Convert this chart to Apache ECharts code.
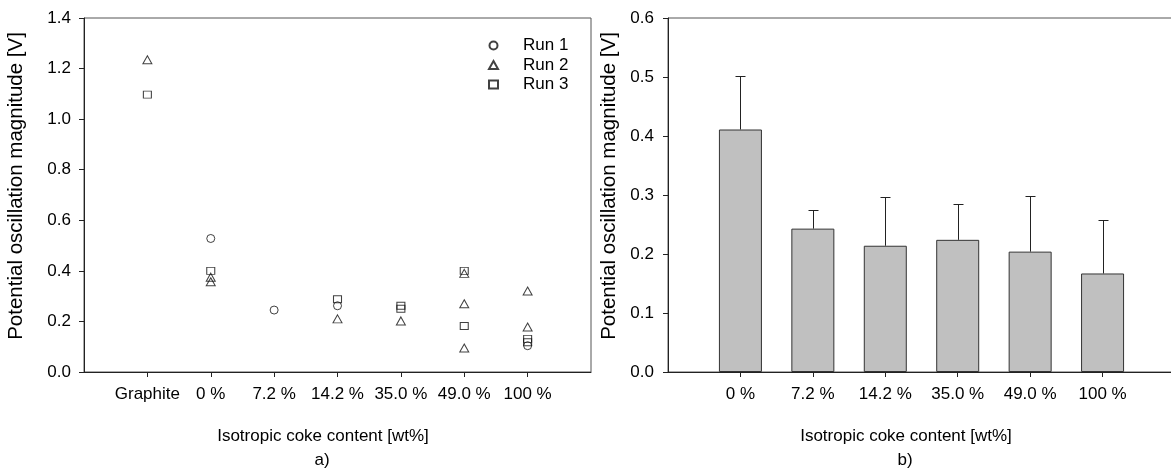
<!DOCTYPE html>
<html><head><meta charset="utf-8">
<script src="https://cdn.jsdelivr.net/npm/echarts@6/dist/echarts.min.js"></script>
<style>html,body{margin:0;padding:0;background:#fff}#c{width:1171px;height:475px}</style>
</head><body><div id="c"></div>
<script>
// ---- data (panel a) ----
const catsA = ['', 'Graphite', '0 %', '7.2 %', '14.2 %', '35.0 %', '49.0 %', '100 %', ''];
const run1 = [['0 %', 0.528], ['7.2 %', 0.245], ['14.2 %', 0.262], ['100 %', 0.104]];
const run2 = [['Graphite', 1.235], ['0 %', 0.375], ['0 %', 0.357], ['14.2 %', 0.21], ['35.0 %', 0.202],
              ['49.0 %', 0.39], ['49.0 %', 0.27], ['49.0 %', 0.095], ['100 %', 0.32], ['100 %', 0.178]];
const run3 = [['Graphite', 1.097], ['0 %', 0.40], ['14.2 %', 0.288], ['35.0 %', 0.262], ['35.0 %', 0.25],
              ['49.0 %', 0.40], ['49.0 %', 0.182], ['100 %', 0.131], ['100 %', 0.118]];
const yTicksA = [0, 1.4, 0.2];
// ---- data (panel b) ----
const catsB = ['', '0 %', '7.2 %', '14.2 %', '35.0 %', '49.0 %', '100 %', ''];
const barLabels = ['0 %', '7.2 %', '14.2 %', '35.0 %', '49.0 %', '100 %'];
const barMeans = [0.411, 0.243, 0.214, 0.224, 0.204, 0.167];
const barErrs = [0.090, 0.031, 0.082, 0.060, 0.095, 0.090];
const yTicksB = [0, 0.6, 0.1];
const axisTitle = 'Isotropic coke content [wt%]';
const yTitle = 'Potential oscillation magnitude [V]';

const FONT = "'Liberation Sans', Arial, sans-serif";
const txt = {color: '#000', fontFamily: FONT, fontSize: 17};
const toPts = arr => arr.map(d => [catsA.indexOf(d[0]), d[1]]);
const mk = {color: 'rgba(0,0,0,0)', borderColor: '#111', borderWidth: 1};

const chart = echarts.init(document.getElementById('c'), null, {renderer: 'canvas'});
const xAxisCommon = {
  type: 'category', boundaryGap: false,
  axisLine: {lineStyle: {color: '#222', width: 1}},
  axisTick: {length: 5, lineStyle: {color: '#222'}, interval: (i, v) => v !== ''},
  axisLabel: Object.assign({margin: 14, interval: 0}, txt),
  splitLine: {show: false}
};
const yAxisCommon = {
  type: 'value',
  axisLine: {show: true, lineStyle: {color: '#222', width: 1}},
  axisTick: {show: true, length: 5, lineStyle: {color: '#222'}},
  axisLabel: Object.assign({formatter: v => v.toFixed(1)}, txt),
  splitLine: {show: false},
  nameLocation: 'middle', nameRotate: 90,
  nameTextStyle: Object.assign({}, txt, {fontSize: 20.5, padding: [0, 0, 0, 18]})
};
chart.setOption({
  animation: false,
  backgroundColor: '#fff',
  grid: [
    {left: 84, top: 18, width: 507, height: 354, show: true, borderColor: '#555', borderWidth: 1, containLabel: false, outerBoundsMode: 'none'},
    {left: 668, top: 18, width: 507, height: 354, show: true, borderColor: '#555', borderWidth: 1, containLabel: false, outerBoundsMode: 'none'}
  ],
  xAxis: [
    Object.assign({}, xAxisCommon, {gridIndex: 0, data: catsA}),
    Object.assign({}, xAxisCommon, {gridIndex: 1, data: catsB})
  ],
  yAxis: [
    Object.assign({}, yAxisCommon, {gridIndex: 0, min: yTicksA[0], max: yTicksA[1], interval: yTicksA[2], name: yTitle, nameGap: 57,
      axisLabel: Object.assign({}, yAxisCommon.axisLabel, {margin: 13})}),
    Object.assign({}, yAxisCommon, {gridIndex: 1, min: yTicksB[0], max: yTicksB[1], interval: yTicksB[2], name: yTitle, nameGap: 48,
      axisLabel: Object.assign({}, yAxisCommon.axisLabel, {margin: 14})})
  ],
  legend: {
    orient: 'vertical', left: 483, top: 32,
    itemWidth: 9, itemHeight: 8, itemGap: 2.5,
    textStyle: Object.assign({}, txt, {lineHeight: 17, padding: [0, 0, 0, 20]}),
    data: [{name: 'Run 1', icon: 'circle'}, {name: 'Run 2', icon: 'triangle'}, {name: 'Run 3', icon: 'rect'}]
  },
  series: [
    {name: 'Run 1', type: 'scatter', xAxisIndex: 0, yAxisIndex: 0, symbol: 'circle', symbolSize: [8, 8], itemStyle: mk, data: toPts(run1)},
    {name: 'Run 2', type: 'scatter', xAxisIndex: 0, yAxisIndex: 0, symbol: 'triangle', symbolSize: [9, 8], itemStyle: mk, data: toPts(run2)},
    {name: 'Run 3', type: 'scatter', xAxisIndex: 0, yAxisIndex: 0, symbol: 'rect', symbolSize: [8, 7], itemStyle: mk, data: toPts(run3)},
    {name: 'mean', type: 'bar', xAxisIndex: 1, yAxisIndex: 1, barWidth: 43,
      itemStyle: {color: '#c0c0c0', borderColor: '#333', borderWidth: 1},
      data: barMeans.map((v, i) => [catsB.indexOf(barLabels[i]), v])},
    {name: 'err', type: 'custom', xAxisIndex: 1, yAxisIndex: 1, z: 3,
      encode: {x: 0, y: [1, 2]},
      data: barMeans.map((v, i) => [catsB.indexOf(barLabels[i]), v, v + barErrs[i]]),
      renderItem: function (params, api) {
        const x = api.value(0);
        const lo = api.coord([x, api.value(1)]);
        const hi = api.coord([x, api.value(2)]);
        const cx = Math.round(lo[0]) + 0.5, ty = Math.round(hi[1]) + 0.5;
        return {type: 'group', children: [
          {type: 'line', shape: {x1: cx, y1: lo[1], x2: cx, y2: ty}, style: {stroke: '#222', lineWidth: 1}},
          {type: 'line', shape: {x1: cx - 5, y1: ty, x2: cx + 5, y2: ty}, style: {stroke: '#222', lineWidth: 1}}
        ]};
      }}
  ],
  graphic: [
    {type: 'text', x: 323, y: 436, style: {text: axisTitle, fill: '#000', font: "17px " + FONT, textAlign: 'center', textVerticalAlign: 'middle'}},
    {type: 'text', x: 322, y: 460, style: {text: 'a)', fill: '#000', font: "17px " + FONT, textAlign: 'center', textVerticalAlign: 'middle'}},
    {type: 'text', x: 906, y: 436, style: {text: axisTitle, fill: '#000', font: "17px " + FONT, textAlign: 'center', textVerticalAlign: 'middle'}},
    {type: 'text', x: 905, y: 460, style: {text: 'b)', fill: '#000', font: "17px " + FONT, textAlign: 'center', textVerticalAlign: 'middle'}}
  ]
});
</script></body></html>
